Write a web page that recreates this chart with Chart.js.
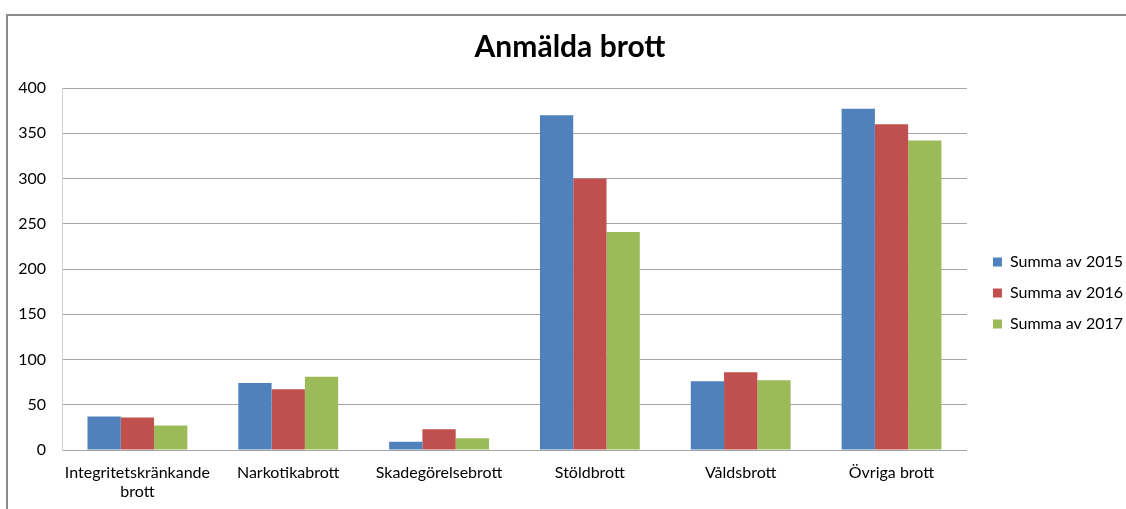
<!DOCTYPE html>
<html><head><meta charset="utf-8">
<script src="https://cdn.jsdelivr.net/npm/chart.js@4/dist/chart.umd.min.js"></script>
<style>html,body{margin:0;padding:0;background:#fff}#wrap{width:1126px;height:509px;position:relative}</style>
</head><body><div id="wrap"><canvas id="c" width="1126" height="509"></canvas></div>
<script>
const categories = [['Integritetskränkande','brott'], 'Narkotikabrott', 'Skadegörelsebrott', 'Stöldbrott', 'Våldsbrott', 'Övriga brott'];
const seriesNames = ['Summa av 2015', 'Summa av 2016', 'Summa av 2017'];
const values2015 = [37, 74, 9, 370, 76, 377];
const values2016 = [36, 67, 23, 300, 86, 360];
const values2017 = [27, 81, 13, 241, 77, 342];
const yTicks = [0, 50, 100, 150, 200, 250, 300, 350, 400];
const colors = ['#4F81BD', '#C0504D', '#9BBB59'];
const FONT = 'Lato, "Open Sans", sans-serif';

const frame = {
  id: 'frame',
  beforeDraw(chart) {
    const ctx = chart.ctx;
    ctx.save();
    ctx.fillStyle = '#fff';
    ctx.fillRect(0, 0, chart.width, chart.height);
    ctx.strokeStyle = '#8c8c8c';
    ctx.lineWidth = 2;
    ctx.beginPath();
    ctx.moveTo(7, 509);
    ctx.lineTo(7, 15);
    ctx.lineTo(1126, 15);
    ctx.stroke();
    ctx.restore();
  }
};

const legendShift = {
  id: 'legendShift',
  afterLayout(chart) {
    const lg = chart.legend;
    if (!lg) return;
    lg.left += 11; lg.right += 11;
    lg.top += 27; lg.bottom += 27;
  }
};

new Chart(document.getElementById('c'), {
  type: 'bar',
  data: {
    labels: categories,
    datasets: [values2015, values2016, values2017].map((v, i) => ({
      label: seriesNames[i], data: v, backgroundColor: colors[i], borderWidth: 0,
      categoryPercentage: 0.662, barPercentage: 1.0
    }))
  },
  options: {
    responsive: false, animation: false,
    layout: { padding: { left: 18, top: 29, right: 4, bottom: 6 } },
    plugins: {
      title: { display: true, text: 'Anmälda brott', color: '#000',
        font: { family: FONT, size: 30, weight: 'bold' }, padding: { top: 0, bottom: 23 } },
      legend: { position: 'right', align: 'center',
        labels: { boxWidth: 9, boxHeight: 9, padding: 15, color: '#000', font: { family: FONT, size: 16 } } },
      tooltip: { enabled: false }
    },
    scales: {
      x: {
        afterFit: (s) => { s.height = 53; },
        grid: { display: false, drawTicks: false },
        border: { display: true, color: '#a6a6a6', width: 1 },
        ticks: { color: '#000', font: { family: FONT, size: 16, lineHeight: 1.2 }, padding: 13, maxRotation: 0, autoSkip: false }
      },
      y: {
        min: 0, max: 400,
        afterFit: (s) => { s.width = 44; },
        afterBuildTicks: (axis) => { axis.ticks = yTicks.map(v => ({ value: v })); },
        grid: { color: '#a6a6a6', drawTicks: false },
        border: { display: true, color: '#d0d0d0', width: 1 },
        ticks: { color: '#000', font: { family: FONT, size: 16 }, padding: 16 }
      }
    }
  },
  plugins: [frame, legendShift]
});
</script></body></html>
